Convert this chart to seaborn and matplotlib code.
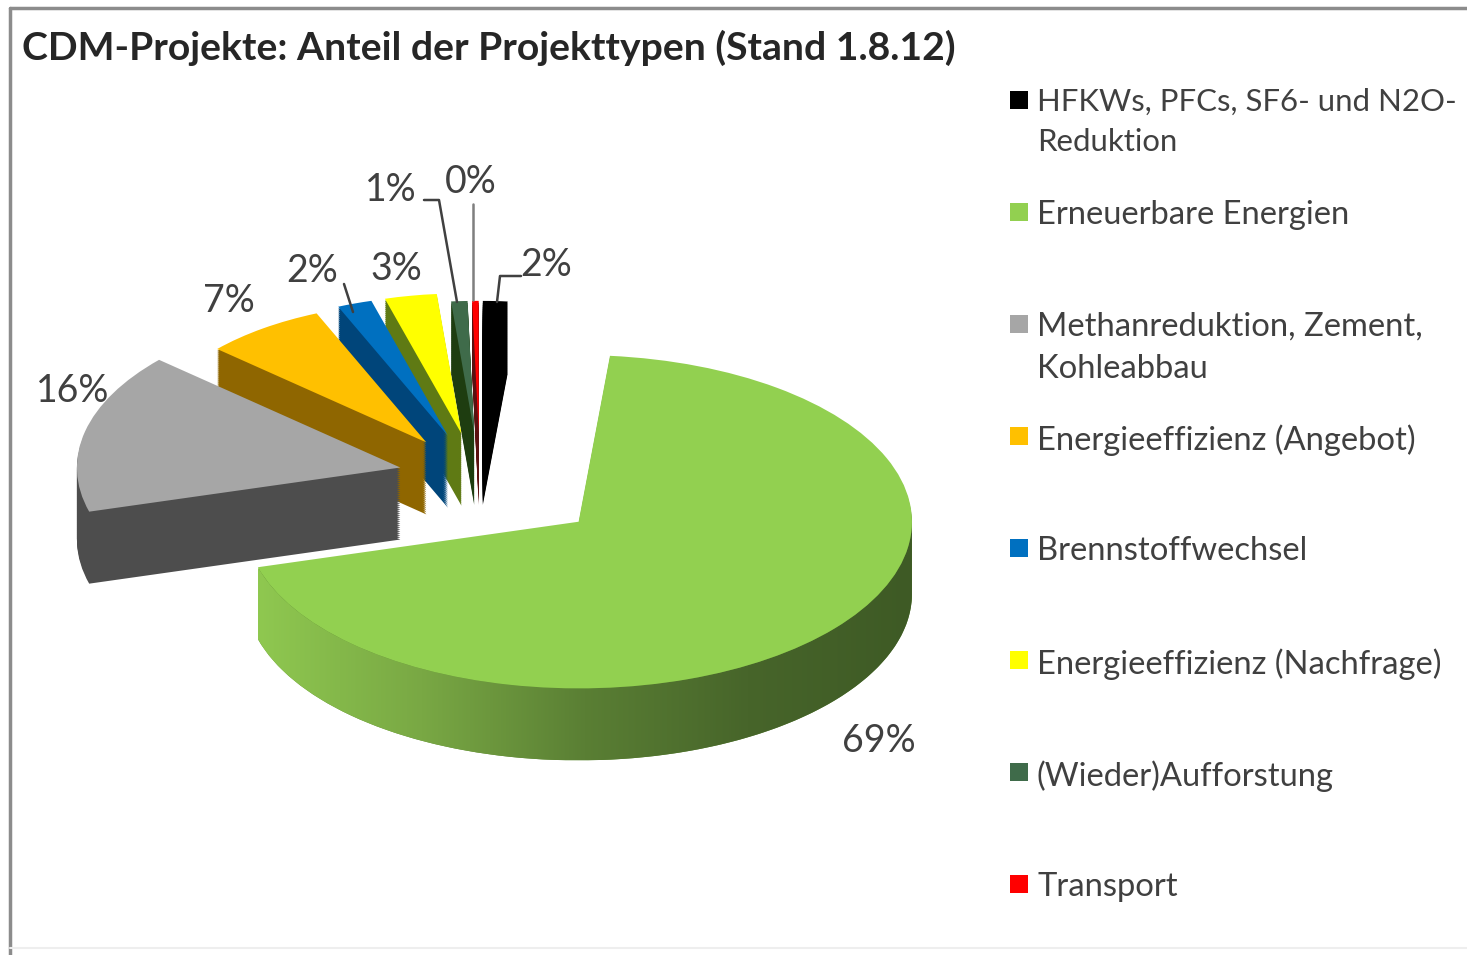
# CDM-Projekte: exploded pie with a drawn 3D rim
import numpy as np
import matplotlib
matplotlib.use('Agg')
import matplotlib.pyplot as plt
import seaborn as sns
from matplotlib.colors import LinearSegmentedColormap
from matplotlib.lines import Line2D
from matplotlib.patches import Polygon, Rectangle

# --- data ---
TITLE = 'CDM-Projekte: Anteil der Projekttypen (Stand 1.8.12)'
categories = ['HFKWs, PFCs, SF6- und N2O-\nReduktion', 'Erneuerbare Energien',
              'Methanreduktion, Zement,\nKohleabbau', 'Energieeffizienz (Angebot)',
              'Brennstoffwechsel', 'Energieeffizienz (Nachfrage)',
              '(Wieder)Aufforstung', 'Transport']
values = [1.5, 69.1, 16, 7, 2, 3, 1, 0.4]

# --- styles ---
top_colors = ['#000000', '#92d050', '#a6a6a6', '#ffc000', '#0070c0', '#ffff00', '#3f6b4a', '#ff0000']
side_colors = ['#000000', '#5f8a34', '#4d4d4d', '#8f6600', '#00457a', '#5f7a14', '#1e3d10', '#5a1010']
rim_colors = ['#8fc850', '#79a844', '#5a7f34', '#47652a', '#3e5a25']
slice_z = [2, 9, 8, 7, 6, 5, 4, 3]
radius_scale = [0.80, 1.01, 0.98, 0.85, 0.85, 0.85, 0.80, 0.80]   # back slices look smaller
center_dx = [-22, 0, 0, -14, -18, -20, -20, -20]                  # px, perspective shift
center_dy = [0, -5, 5, 0, 0, 0, 0, 0]                             # px, up is positive
legend_sizes = [22.4, 23.6, 23.6, 23.6, 23.6, 23.6, 23.6, 23.6]

W, H = 1467, 955
CX, CY = 500, 484   # pie centre in px
RX, RY = 330, 165   # px per unit radius
DEPTH = 72          # rim height in px
EXPLODE = 0.31
START = 90          # first slice starts at the top


def fig_xy(x, y):
    return x / W, 1 - y / H


def place_slices(wedges, base_z):
    for i, w in enumerate(wedges):
        w.set_radius(radius_scale[i])
        w.set_center((w.center[0] + center_dx[i] / RX, w.center[1] + center_dy[i] / RY))
        w.set_zorder(slice_z[i] + base_z)


sns.set_theme(style='white')
plt.rcParams['font.family'] = ['Lato', 'DejaVu Sans']
palette = sns.color_palette(top_colors)
side_palette = sns.color_palette(side_colors)

fig = plt.figure(figsize=(W / 100, H / 100), dpi=100, facecolor='white')
ax = fig.add_axes([0, 0, 1, 1])

# rim: the same pie stacked downwards
offsets = np.arange(DEPTH, 0, -2) / RY
for k, off in enumerate(offsets):
    wedges, _ = ax.pie(values, colors=side_palette, startangle=START, counterclock=False,
                       explode=[EXPLODE] * len(values), center=(0, -off),
                       wedgeprops={'linewidth': 0})
    place_slices(wedges, k / 100)

# top face
top_wedges, _ = ax.pie(values, colors=palette, startangle=START, counterclock=False,
                       explode=[EXPLODE] * len(values), center=(0, 0),
                       wedgeprops={'linewidth': 0})
place_slices(top_wedges, 0.9)

# horizontal shading on the front rim of the big slice
big = top_wedges[1]
theta = np.radians(np.linspace(big.theta1, big.theta2, 500))
theta = theta[np.sin(theta) < 0]
arc_x = big.center[0] + big.r * np.cos(theta)
arc_y = big.center[1] + big.r * np.sin(theta)
rim_pts = np.vstack([np.column_stack([arc_x, arc_y]),
                     np.column_stack([arc_x, arc_y - DEPTH / RY])[::-1]])
rim_shape = Polygon(rim_pts, closed=True, transform=ax.transData)
rim_cmap = LinearSegmentedColormap.from_list('rim', rim_colors)
im = ax.imshow(np.linspace(0, 1, 256)[None, :], cmap=rim_cmap, aspect='auto',
               extent=(arc_x.min(), arc_x.max(), rim_pts[:, 1].min(), rim_pts[:, 1].max()),
               zorder=slice_z[1] + 0.6)
im.set_clip_path(rim_shape)

ax.set_aspect('auto')
ax.set_xlim(-CX / RX, (W - CX) / RX)
ax.set_ylim((CY - H) / RY, CY / RY)
ax.axis('off')

# frame of the screenshot
for x0, y0, x1, y1, col, lw in [(10, 8, W, 8, '#8c8c8c', 2.5), (10, 8, 10, H, '#8c8c8c', 2.5),
                                (10, 948, W, 948, '#eeeeee', 1.5)]:
    fig.add_artist(Line2D([x0 / W, x1 / W], [1 - y0 / H, 1 - y1 / H], color=col, lw=lw))

# title
fig.text(*fig_xy(22, 48), TITLE, fontsize=28.2, fontweight='bold', color='#262626',
         va='center', ha='left')

# percent labels
label_pos = [(546, 265), (879, 741), (73, 391), (229, 301), (312, 271), (396, 269), (391, 190), (471, 182)]
for v, (x, y) in zip(values, label_pos):
    fig.text(*fig_xy(x, y), f'{v:.0f}%', fontsize=27, color='#404040', ha='center', va='center')

# leader lines
leaders = [([521, 500, 497], [276, 276, 302], '#404040'),
           ([424, 439, 457], [200, 200, 302], '#404040'),
           ([473, 473], [204, 300], '#7f7f7f'),
           ([344, 353], [284, 312], '#404040')]
for xs, ys, col in leaders:
    fig.add_artist(Line2D([x / W for x in xs], [1 - y / H for y in ys], color=col, lw=1.8, zorder=20))

# legend
legend_y = [100, 212, 324, 436, 548, 660, 772, 884]
for name, col, y, size in zip(categories, palette, legend_y, legend_sizes):
    x0, y0 = fig_xy(1010, y + 9)
    fig.add_artist(Rectangle((x0, y0), 18 / W, 18 / H, transform=fig.transFigure,
                             facecolor=col, edgecolor='none'))
    fig.text(*fig_xy(1037, y - 12), name, fontsize=size, color='#404040', ha='left', va='top',
             linespacing=1.5)

fig.savefig('out.png', dpi=100)
